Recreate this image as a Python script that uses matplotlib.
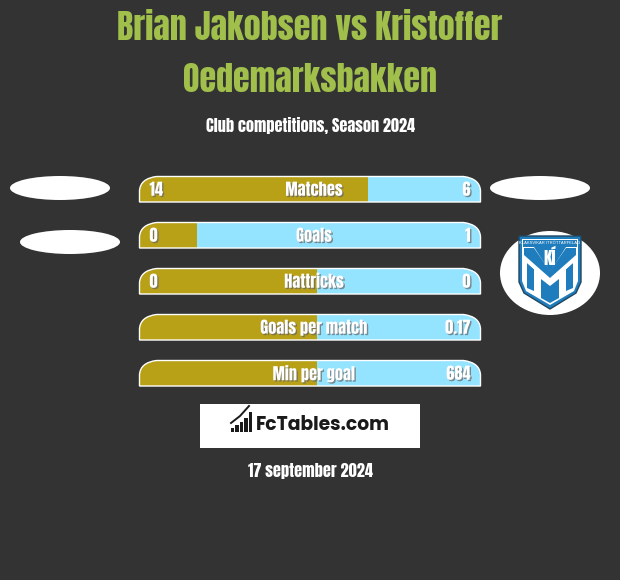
import matplotlib.pyplot as plt
import matplotlib.patheffects as pe
from matplotlib.patches import Ellipse, PathPatch, Polygon, Rectangle
from matplotlib.path import Path

title_lines = ["Brian Jakobsen vs Kristoffer", "Oedemarksbakken"]
subtitle = "Club competitions, Season 2024"
date_text = "17 september 2024"
site_text = "FcTables.com"

stats = ["Matches", "Goals", "Hattricks", "Goals per match", "Min per goal"]
left_labels = ["14", "0", "0", "", ""]
right_labels = ["6", "1", "0", "0.17", "684"]
left_share = [67, 17, 52, 52, 52]
logo_bars = [4, 7, 10, 14, 20]

plt.rcParams["font.family"] = ["Anton", "Barlow Condensed", "Liberation Sans", "DejaVu Sans"]

BG = "#333333"
GOLD = "#b8a017"
BLUE = "#94e3ff"
GREEN = "#a0bf4b"
BAR_X = 139.5
BAR_W = 341
BAR_H = 25.5

fig = plt.figure(figsize=(6.2, 5.8), dpi=100, facecolor=BG)
ax = fig.add_axes([0, 0, 1, 1])
ax.set_xlim(0, 620)
ax.set_ylim(580, 0)
ax.axis("off")

for i, line in enumerate(title_lines):
    ax.text(310, 26 + i * 51, line, color=GREEN, fontsize=24.5, ha="center", va="center_baseline")
ax.text(310, 124, subtitle, color="white", fontsize=11.7, ha="center", va="center_baseline")


def bar_outline(top):
    l, r, b = BAR_X, BAR_X + BAR_W, top + BAR_H
    verts = [(l, b), (l, top + 14), (l + 1, top + 2), (l + 17, top), (r - 17, top),
             (r - 1, top + 2), (r, top + 14), (r, b), (l, b)]
    codes = [Path.MOVETO, Path.LINETO, Path.CURVE3, Path.CURVE3, Path.LINETO,
             Path.CURVE3, Path.CURVE3, Path.LINETO, Path.CLOSEPOLY]
    return Path(verts, codes)


for i, stat in enumerate(stats):
    top = 176.5 + i * 46
    mid = top + BAR_H / 2
    outline = PathPatch(bar_outline(top), facecolor="none", edgecolor="none")
    ax.add_patch(outline)
    split = BAR_W * left_share[i] / 100
    gold = ax.barh(mid, split, BAR_H, left=BAR_X, color=GOLD, linewidth=0)
    blue = ax.barh(mid, BAR_W - split, BAR_H, left=BAR_X + split, color=BLUE, linewidth=0)
    for b in list(gold) + list(blue):
        b.set_clip_path(outline)
    ax.add_patch(PathPatch(bar_outline(top), facecolor="none", edgecolor="white", linewidth=1.0))

    for x, label, ha in [(BAR_X + 10, left_labels[i], "left"),
                         (314, stat, "center"),
                         (BAR_X + BAR_W - 10, right_labels[i], "right")]:
        t = ax.text(x, mid - 0.5, label, color="white", fontsize=11.8, ha=ha, va="center_baseline")
        t.set_path_effects([pe.withSimplePatchShadow(offset=(1, -1), shadow_rgbFace="#666666", alpha=0.7)])

for x, y in [(60, 188), (540, 188), (70, 242)]:
    ax.add_patch(Ellipse((x, y), 100, 24, facecolor="white", edgecolor="none"))

# club crest
ax.add_patch(Ellipse((550, 273), 100, 84, facecolor="white", edgecolor="none"))
crest = [(519, 236), (581, 236), (581, 282), (576, 293), (550, 309), (524, 293), (519, 282)]
inner = [(522, 239), (578, 239), (578, 281), (574, 291), (550, 305), (526, 291), (522, 281)]
ax.add_patch(Polygon(crest, closed=True, facecolor="#1f7dbd", edgecolor="#22465f", linewidth=1))
ax.add_patch(Polygon(inner, closed=True, facecolor="white", edgecolor="none"))
ax.add_patch(Rectangle((523, 240), 54, 7, facecolor="#1f7dbd", edgecolor="none"))
ax.text(550, 243.5, "KLAKSVÍKAR ÍTRÓTTARFELAG", color="white", fontsize=3, ha="center", va="center",
        family=["Liberation Sans", "DejaVu Sans"])
# vertical stripes below the chevron
for stripe in [[(527, 263), (534, 269), (534, 291), (527, 288)],
               [(573, 263), (566, 269), (566, 291), (573, 288)],
               [(541, 279), (550, 286), (559, 279), (559, 298), (550, 303), (541, 298)]]:
    ax.add_patch(Polygon(stripe, closed=True, facecolor="#1f7dbd", edgecolor="none"))
# chevron: blue V with white inner V
ax.add_patch(Polygon([(524, 248), (534, 248), (550, 271), (566, 248), (576, 248), (576, 258),
                      (550, 282), (524, 258)], closed=True, facecolor="#1f7dbd", edgecolor="none"))
ax.add_patch(Polygon([(524, 255), (550, 278), (576, 255), (576, 260), (550, 284), (524, 260)],
                     closed=True, facecolor="white", edgecolor="none"))
ax.add_patch(Polygon([(534, 247), (566, 247), (550, 272)], closed=True, facecolor="#1f7dbd", edgecolor="none"))
ax.text(550, 256, "KÍ", color="white", fontsize=13, ha="center", va="center_baseline")

# site banner
ax.add_patch(Rectangle((200, 404), 220, 44, facecolor="white", edgecolor="none"))
for i, h in enumerate(logo_bars):
    ax.bar(232.5 + i * 4.5, h, 3.4, bottom=432 - h, color="#1a1a1a", linewidth=0)
ax.plot([231, 240, 249], [423, 416, 406], color="#1a1a1a", linewidth=1.4)
ax.text(256, 423, site_text, color="#1a1a1a", fontsize=13.5, ha="left", va="center_baseline",
        family=["Poppins", "Open Sans", "DejaVu Sans"], fontweight="bold")

ax.text(310, 470, date_text, color="white", fontsize=11.75, ha="center", va="center_baseline")

fig.savefig("out.png", dpi=100, facecolor=BG)
